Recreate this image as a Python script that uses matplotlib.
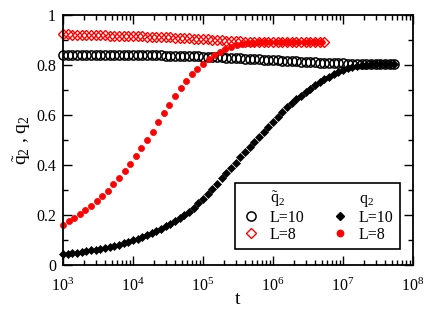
import matplotlib
matplotlib.use("Agg")
import matplotlib.pyplot as plt
from matplotlib.lines import Line2D
from matplotlib.ticker import LogLocator, NullFormatter, MultipleLocator
import numpy as np

plt.rcParams["font.family"] = ["Liberation Serif", "DejaVu Serif"]
plt.rcParams["mathtext.fontset"] = "custom"
plt.rcParams["mathtext.rm"] = "Liberation Serif"
plt.rcParams["mathtext.it"] = "Liberation Serif:italic"

# log10(t) grid of the L=10 runs (also used by L=8 q~2, which stops earlier)
lt_10 = [3.00, 3.07, 3.13, 3.20, 3.27, 3.33, 3.40, 3.47, 3.53, 3.60, 3.67, 3.73, 3.80, 3.87, 3.93,
         4.00, 4.07, 4.13, 4.20, 4.27, 4.33, 4.40, 4.47, 4.53, 4.60, 4.67, 4.73, 4.80, 4.87, 4.93,
         5.00, 5.07, 5.13, 5.20, 5.27, 5.33, 5.40, 5.47, 5.53, 5.60, 5.67, 5.73, 5.80, 5.87, 5.93,
         6.00, 6.07, 6.13, 6.20, 6.27, 6.33, 6.40, 6.47, 6.53, 6.60, 6.67, 6.73, 6.80, 6.87, 6.93,
         7.00, 7.07, 7.13, 7.20, 7.27, 7.33, 7.40, 7.47, 7.53, 7.60, 7.67, 7.73]

# q~2, L=10 (open black circles)
qt_10 = [0.840, 0.840, 0.840, 0.840, 0.840, 0.840, 0.840, 0.840, 0.840, 0.840, 0.840, 0.840, 0.840, 0.840, 0.839,
         0.839, 0.839, 0.839, 0.839, 0.838, 0.838, 0.838, 0.837, 0.837, 0.836, 0.836, 0.835, 0.835, 0.834, 0.834,
         0.833, 0.832, 0.831, 0.831, 0.830, 0.829, 0.828, 0.827, 0.826, 0.825, 0.824, 0.823, 0.822, 0.821, 0.820,
         0.819, 0.818, 0.817, 0.816, 0.815, 0.814, 0.813, 0.812, 0.811, 0.810, 0.809, 0.808, 0.807, 0.807, 0.806,
         0.806, 0.805, 0.805, 0.804, 0.804, 0.804, 0.803, 0.803, 0.803, 0.803, 0.803, 0.803]

# q2, L=10 (filled black diamonds)
q_10 = [0.044, 0.046, 0.048, 0.050, 0.053, 0.056, 0.059, 0.062, 0.065, 0.068, 0.072, 0.077, 0.082, 0.088, 0.093,
        0.099, 0.105, 0.112, 0.120, 0.128, 0.136, 0.145, 0.155, 0.165, 0.176, 0.188, 0.200, 0.214, 0.230, 0.248,
        0.266, 0.285, 0.304, 0.325, 0.346, 0.367, 0.388, 0.409, 0.430, 0.450, 0.470, 0.491, 0.512, 0.533, 0.553,
        0.573, 0.593, 0.612, 0.630, 0.647, 0.662, 0.677, 0.692, 0.705, 0.718, 0.730, 0.742, 0.753, 0.763, 0.772,
        0.780, 0.787, 0.792, 0.796, 0.799, 0.801, 0.802, 0.803, 0.803, 0.803, 0.803, 0.803]

# q~2, L=8 (open red diamonds), on lt_10 up to 6.73
qt_8 = [0.922, 0.922, 0.921, 0.921, 0.920, 0.920, 0.919, 0.919, 0.918, 0.918, 0.917, 0.917, 0.916, 0.916, 0.915,
        0.915, 0.914, 0.914, 0.913, 0.912, 0.912, 0.911, 0.910, 0.910, 0.909, 0.908, 0.907, 0.906, 0.905, 0.904,
        0.903, 0.902, 0.900, 0.899, 0.898, 0.897, 0.896, 0.895, 0.894, 0.893, 0.892, 0.892, 0.891, 0.891, 0.890,
        0.890, 0.890, 0.890, 0.890, 0.890, 0.890, 0.890, 0.890, 0.890, 0.890, 0.890, 0.890]

# q2, L=8 (filled red circles), own grid
lt_8 = [3.00, 3.08, 3.16, 3.24, 3.32, 3.40, 3.48, 3.56, 3.64, 3.72, 3.80, 3.88, 3.96,
        4.04, 4.12, 4.20, 4.28, 4.36, 4.44, 4.52, 4.60, 4.68, 4.76, 4.84, 4.92,
        5.00, 5.08, 5.16, 5.24, 5.32, 5.40, 5.48, 5.56, 5.64, 5.72, 5.80, 5.88, 5.96,
        6.04, 6.12, 6.20, 6.28, 6.36, 6.44, 6.52, 6.60, 6.68]
q_8 = [0.160, 0.175, 0.190, 0.205, 0.220, 0.237, 0.255, 0.275, 0.297, 0.322, 0.348, 0.376, 0.405,
       0.435, 0.466, 0.498, 0.533, 0.570, 0.606, 0.641, 0.675, 0.707, 0.737, 0.763, 0.785,
       0.805, 0.823, 0.839, 0.853, 0.864, 0.873, 0.879, 0.884, 0.887, 0.889, 0.890, 0.891, 0.891,
       0.891, 0.891, 0.891, 0.891, 0.891, 0.891, 0.891, 0.891, 0.891]

yticks = [0, 0.2, 0.4, 0.6, 0.8, 1]
ylabels = ["0", "0.2", "0.4", "0.6", "0.8", "1"]

t10 = 10.0 ** np.array(lt_10)
t8 = 10.0 ** np.array(lt_8)

fig = plt.figure(figsize=(4.36, 3.10), dpi=100)
ax = fig.add_axes([0.1445, 0.145, 0.8025, 0.807])

# markers at t=1e3 spill over the left spine in the original, so no clipping
ax.plot(t10, qt_10, ls="none", marker="o", ms=6.6, mfc="none", mec="black", mew=1.1, clip_on=False)
ax.plot(t10[:len(qt_8)], qt_8, ls="none", marker="D", ms=4.6, mfc="none", mec="red", mew=1.0, clip_on=False)
ax.plot(t10, q_10, ls="none", marker="D", ms=4.2, mfc="black", mec="black", mew=0.5, clip_on=False)
ax.plot(t8, q_8, ls="none", marker="o", ms=4.4, mfc="red", mec="red", mew=0.5, clip_on=False)

ax.set_xscale("log")
ax.set_xlim(1e3, 1e8)
ax.set_ylim(0, 1)
ax.xaxis.set_major_locator(LogLocator(base=10, numticks=10))
ax.xaxis.set_minor_locator(LogLocator(base=10, subs=np.arange(2, 10), numticks=20))
ax.xaxis.set_minor_formatter(NullFormatter())
ax.set_yticks(yticks)
ax.set_yticklabels(ylabels)
ax.yaxis.set_minor_locator(MultipleLocator(0.1))

ax.tick_params(which="both", direction="in", top=True, right=True, width=1.0, labelsize=11.5)
ax.tick_params(which="major", length=6.5)
ax.tick_params(which="minor", length=3.5)
ax.tick_params(axis="y", which="major", pad=5)
ax.tick_params(axis="x", which="major", pad=9)
for s in ax.spines.values():
    s.set_linewidth(1.3)

ax.set_xlabel("t", fontsize=14, labelpad=-3)
ax.set_ylabel(r"$\tilde{\mathrm{q}}_2$ , $\mathrm{q}_2$", fontsize=14, labelpad=2)

blank = Line2D([], [], ls="none", marker="none")
h_c10 = Line2D([], [], ls="none", marker="o", ms=6.6, mfc="none", mec="black", mew=1.1)
h_d8 = Line2D([], [], ls="none", marker="D", ms=5.0, mfc="none", mec="red", mew=1.0)
h_d10 = Line2D([], [], ls="none", marker="D", ms=4.4, mfc="black", mec="black")
h_c8 = Line2D([], [], ls="none", marker="o", ms=4.6, mfc="red", mec="red")
leg = ax.legend([blank, h_c10, h_d8, blank, h_d10, h_c8],
                [r"$\tilde{\mathrm{q}}_2$", "L=10", "L=8", r"$\mathrm{q}_2$", "L=10", "L=8"],
                ncol=2, loc="lower right", bbox_to_anchor=(0.963, 0.064), borderaxespad=0,
                fontsize=11.5, handlelength=1.2, handletextpad=0.6, columnspacing=1.6,
                labelspacing=0.05, borderpad=0.4, fancybox=False, framealpha=1, edgecolor="black")
leg.get_frame().set_linewidth(1.2)

fig.savefig("out.png", dpi=100)
